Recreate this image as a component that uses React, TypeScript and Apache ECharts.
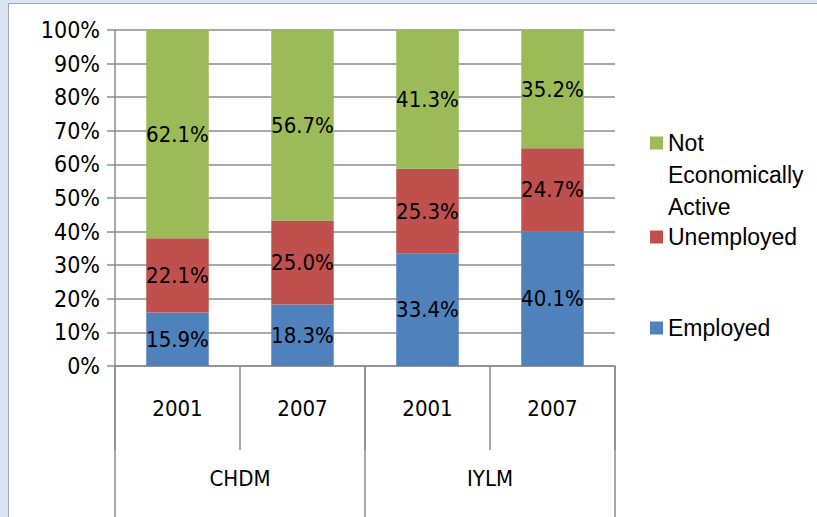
import React, { useEffect, useRef } from "react";
import * as echarts from "echarts";

const years = ["2001", "2007", "2001", "2007"];
const groups = ["CHDM", "IYLM"];
const employed = [15.9, 18.3, 33.4, 40.1];
const unemployed = [22.1, 25.0, 25.3, 24.7];
const notActive = [62.1, 56.7, 41.3, 35.2];
const yTicks = [0, 10, 20, 30, 40, 50, 60, 70, 80, 90, 100];

const NARROW = "'Liberation Sans Narrow', 'DejaVu Sans Condensed', sans-serif";
const LEGEND_FONT = "'Liberation Sans', Arial, sans-serif";
const GRAY = "#8c8c8c";

export default function App() {
  const ref = useRef<HTMLDivElement>(null);
  useEffect(() => {
    document.body.style.margin = "0";
    const chart = echarts.init(ref.current!, undefined, { renderer: "svg" });
    const label = {
      show: true,
      position: "inside",
      color: "#000",
      fontFamily: NARROW,
      fontSize: 22,
      formatter: (p: any) => p.value.toFixed(1) + "%",
    };
    const mkSeries = (name: string, data: number[], color: string) => ({
      name,
      type: "bar",
      stack: "total",
      barWidth: "50%",
      data,
      itemStyle: { color },
      label,
    });
    const legendText = {
      fontFamily: LEGEND_FONT,
      fontSize: 23,
      color: "#000",
      lineHeight: 32,
    };
    chart.setOption({
      animation: false,
      graphic: [
        { type: "rect", shape: { x: 0, y: 0, width: 817, height: 517 }, style: { fill: "#dce6f2" }, z: -10, silent: true },
        { type: "rect", shape: { x: 8.5, y: 3.5, width: 900, height: 600 }, style: { fill: "#fff", stroke: "#a0a8b4", lineWidth: 1 }, z: -9, silent: true },
      ],
      grid: { left: 115, right: 202, top: 30, bottom: 151 },
      legend: [
        {
          data: ["Not Economically Active"],
          left: 650,
          top: 63,
          padding: 0,
          itemWidth: 13,
          itemHeight: 13,
          icon: "rect",
          formatter: () => "\n\nNot\nEconomically\nActive",
          textStyle: legendText,
        },
        {
          data: ["Unemployed"],
          left: 650,
          top: 221,
          padding: 0,
          itemWidth: 13,
          itemHeight: 13,
          icon: "rect",
          textStyle: legendText,
        },
        {
          data: ["Employed"],
          left: 650,
          top: 312,
          padding: 0,
          itemWidth: 13,
          itemHeight: 13,
          icon: "rect",
          textStyle: legendText,
        },
      ],
      xAxis: [
        {
          type: "category",
          data: years,
          position: "bottom",
          axisLine: { show: true, lineStyle: { color: GRAY, width: 1.5 } },
          axisTick: { show: true, interval: 0, length: 84, lineStyle: { color: GRAY, width: 1.5 } },
          axisLabel: { interval: 0, margin: 31, color: "#000", fontFamily: NARROW, fontSize: 22 },
        },
        {
          type: "category",
          data: groups,
          position: "bottom",
          offset: 0,
          axisLine: { show: false },
          axisTick: { show: true, interval: 0, length: 151, lineStyle: { color: GRAY, width: 1.5 } },
          axisLabel: { interval: 0, margin: 101, color: "#000", fontFamily: NARROW, fontSize: 22 },
        },
      ],
      yAxis: {
        type: "value",
        min: yTicks[0],
        max: yTicks[yTicks.length - 1],
        interval: 10,
        axisLine: { show: true, lineStyle: { color: GRAY, width: 1.5 } },
        axisTick: { show: true, length: 8, lineStyle: { color: GRAY, width: 1.5 } },
        splitLine: { show: true, lineStyle: { color: GRAY, width: 1.5 } },
        axisLabel: { formatter: "{value}%", margin: 15, color: "#000", fontFamily: NARROW, fontSize: 23 },
      },
      series: [
        mkSeries("Employed", employed, "#4f81bd"),
        mkSeries("Unemployed", unemployed, "#c0504d"),
        mkSeries("Not Economically Active", notActive, "#9bbb59"),
      ],
    });
    return () => chart.dispose();
  }, []);
  return <div ref={ref} style={{ width: 817, height: 517 }} />;
}
